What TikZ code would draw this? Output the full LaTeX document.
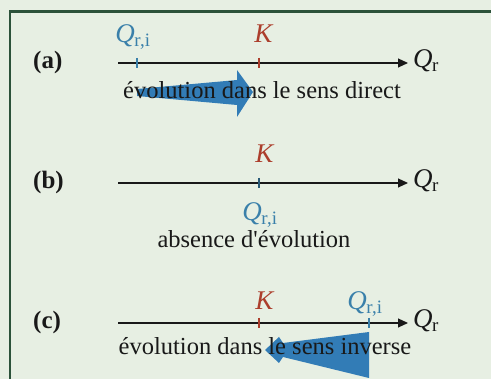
\documentclass[tikz,border=0pt]{standalone}
\usepackage{fontspec}
\setmainfont{Liberation Serif}
\usetikzlibrary{arrows.meta}
\definecolor{bgc}{RGB}{231,239,227}
\definecolor{framec}{RGB}{44,82,58}
\definecolor{qblue}{RGB}{58,128,170}
\definecolor{kred}{RGB}{172,62,44}
\definecolor{arrblue}{RGB}{50,124,182}
\definecolor{ink}{RGB}{25,25,25}
\newcommand{\Qri}{\textit{Q}\kern-0.5pt\textsubscript{r,i}}
\newcommand{\Qrr}{\textit{Q}\kern-0.5pt\textsubscript{r}}
\tikzset{
  axisline/.style={line width=1.1pt, ink, -{Triangle[length=10pt,width=9pt]}},
  tickq/.style={line width=2.2pt, qblue},
  tickk/.style={line width=2.2pt, kred},
  tickqk/.style={line width=2.2pt, qblue!70!black},
  qlab/.style={qblue, anchor=base, inner sep=0pt, font=\fontsize{27}{30}\selectfont},
  klab/.style={kred, anchor=base, inner sep=0pt, font=\fontsize{27}{30}\selectfont},
  rlab/.style={ink, anchor=base west, inner sep=0pt, font=\fontsize{27}{30}\selectfont},
  caselab/.style={ink, anchor=base west, inner sep=0pt, font=\fontsize{25}{28}\selectfont\bfseries},
  txt/.style={ink, anchor=base, inner sep=0pt, font=\fontsize{24.5}{28}\selectfont},
  bigarrow/.style={fill=arrblue, draw=none},
}
\begin{document}
\begin{tikzpicture}[x=1pt,y=-1pt]
\fill[bgc] (0,0) rectangle (491,379);
\useasboundingbox (0,0) rectangle (491,379);
\draw[framec, line width=2.6pt] (10,400) -- (10,11.5) -- (520,11.5);

% ---------- (a)
\node[caselab] (la) at (33,69) {(a)};
\fill[bigarrow] (137,89) -- (237,80) -- (237,70) -- (253,92) -- (237,117) -- (237,105) -- (137,96) -- cycle;
\coordinate (a0) at (118,63);
\coordinate (a1) at (408,63);
\draw[axisline] (a0) -- (a1);
\draw[tickq] (137,58) -- (137,68);
\draw[tickk] (259,58) -- (259,68);
\node[qlab] (qia) at (133,43) {\Qri};
\node[klab] (ka) at (264,43) {\textit{K}};
\node[rlab] (qra) at (413,68) {\Qrr};
\node[txt] (ta) at (262,99) {évolution dans le sens direct};

% ---------- (b)
\node[caselab] (lb) at (33,189) {(b)};
\coordinate (b0) at (118,183);
\coordinate (b1) at (408,183);
\draw[axisline] (b0) -- (b1);
\draw[tickqk] (259,178) -- (259,188);
\node[klab] (kb) at (265,163) {\textit{K}};
\node[qlab] (qib) at (260,221) {\Qri};
\node[rlab] (qrb) at (413,188) {\Qrr};
\node[txt] (tb) at (254,248) {absence d\textquotesingle évolution};

% ---------- (c)
\node[caselab] (lc) at (33,329) {(c)};
\fill[bigarrow] (369,332) -- (369,378) -- (283,357) -- (279,363) -- (265,350) -- (279,337) -- (283,343) -- cycle;
\coordinate (c0) at (118,323);
\coordinate (c1) at (408,323);
\draw[axisline] (c0) -- (c1);
\draw[tickk] (259,318) -- (259,328);
\draw[tickq] (369,318) -- (369,328);
\node[klab] (kc) at (265,310) {\textit{K}};
\node[qlab] (qic) at (365,310) {\Qri};
\node[rlab] (qrc) at (413,328) {\Qrr};
\node[txt] (tc) at (265,355) {évolution dans le sens inverse};
\end{tikzpicture}
\end{document}
